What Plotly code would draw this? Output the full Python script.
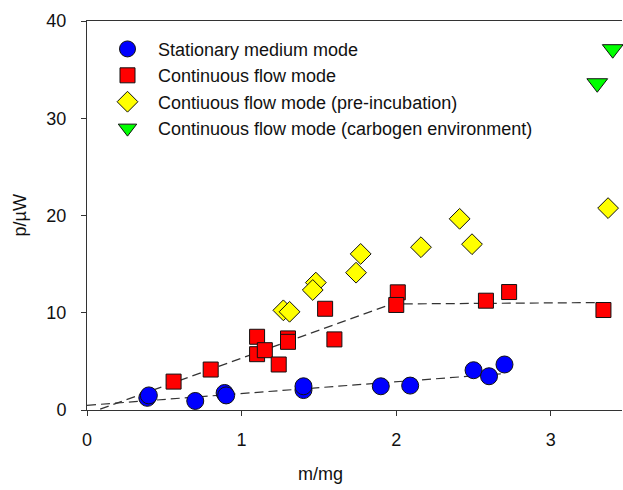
import plotly.graph_objects as go

# Stationary medium mode
stat_x = [0.39, 0.40, 0.70, 0.89, 0.90, 1.40, 1.40, 1.90, 2.09, 2.50, 2.60, 2.70]
stat_y = [1.25, 1.50, 0.93, 1.75, 1.50, 2.05, 2.44, 2.44, 2.51, 4.09, 3.47, 4.68]

# Continuous flow mode
flow_x = [0.56, 0.80, 1.10, 1.10, 1.15, 1.24, 1.30, 1.30, 1.54, 1.60, 2.01, 2.00, 2.58, 2.73, 3.34]
flow_y = [2.92, 4.16, 7.53, 5.74, 6.15, 4.68, 7.36, 7.01, 10.41, 7.26, 12.10, 10.80, 11.24, 12.13, 10.28]

# Continuous flow mode (pre-incubation)
pre_x = [1.27, 1.31, 1.48, 1.46, 1.77, 1.74, 2.16, 2.41, 2.49, 3.37]
pre_y = [10.25, 10.10, 13.10, 12.34, 16.05, 14.12, 16.74, 19.66, 17.05, 20.76]

# Continuous flow mode (carbogen environment)
carb_x = [3.30, 3.40]
carb_y = [33.6, 37.1]

# Fit lines
fit_stat_x = [0.0, 2.70]
fit_stat_y = [0.48, 3.75]
fit_flow_x = [0.0, 1.97, 3.34]
fit_flow_y = [-0.40, 10.90, 11.05]

names = [
    "Stationary medium mode",
    "Continuous flow mode",
    "Contiuous flow mode (pre-incubation)",
    "Continuous flow mode (carbogen environment)",
]

fig = go.Figure()

line_style = dict(color="#333333", width=1.2, dash="9px,5px")
fig.add_trace(go.Scatter(x=fit_stat_x, y=fit_stat_y, mode="lines", line=line_style,
                         showlegend=False, hoverinfo="skip"))
fig.add_trace(go.Scatter(x=fit_flow_x, y=fit_flow_y, mode="lines", line=line_style,
                         showlegend=False, hoverinfo="skip"))

outline = dict(color="#111111", width=1)
fig.add_trace(go.Scatter(x=stat_x, y=stat_y, mode="markers", name=names[0],
                         marker=dict(symbol="circle", size=17, color="#0000ff", line=outline),
                         cliponaxis=False))
fig.add_trace(go.Scatter(x=flow_x, y=flow_y, mode="markers", name=names[1],
                         marker=dict(symbol="square", size=15, color="#ff0000", line=outline),
                         cliponaxis=False))
fig.add_trace(go.Scatter(x=pre_x, y=pre_y, mode="markers", name=names[2],
                         marker=dict(symbol="diamond", size=16, color="#ffff00", line=outline),
                         cliponaxis=False))
fig.add_trace(go.Scatter(x=carb_x, y=carb_y, mode="markers", name=names[3],
                         marker=dict(symbol="triangle-down", size=18, color="#00ff00", line=outline),
                         cliponaxis=False))

font_family = "Liberation Sans, Arial, sans-serif"

fig.update_layout(
    width=623, height=490,
    margin=dict(l=87, r=1, t=21, b=80),
    paper_bgcolor="white", plot_bgcolor="white",
    font=dict(family=font_family, size=18, color="#111111"),
    showlegend=True,
    legend=dict(x=10 / 535, y=0.975, xanchor="left", yanchor="top", itemwidth=51,
                bgcolor="rgba(0,0,0,0)", borderwidth=0,
                font=dict(family=font_family, size=18, color="#111111")),
    xaxis=dict(range=[0, 3.46], tickvals=[0, 1, 2, 3], showgrid=False, zeroline=False,
               showline=True, linecolor="#333333", linewidth=1, mirror=True,
               ticks="outside", ticklen=5, tickcolor="#333333",
               ticklabelstandoff=8, tickfont=dict(size=18)),
    yaxis=dict(range=[0, 40], tickvals=[0, 10, 20, 30, 40], showgrid=False, zeroline=False,
               showline=True, linecolor="#333333", linewidth=1,
               ticks="outside", ticklen=5, tickcolor="#333333",
               ticklabelstandoff=11, tickfont=dict(size=18)),
    annotations=[
        dict(text="m/mg", xref="paper", yref="paper", x=233 / 535, y=-64 / 389,
             xanchor="center", yanchor="middle", showarrow=False, font=dict(size=18)),
        dict(text="p/µW", xref="paper", yref="paper", x=-68 / 535, y=0.5, textangle=-90,
             xanchor="center", yanchor="middle", showarrow=False, font=dict(size=18)),
    ],
)

fig.write_html("out.html",
               config={"displayModeBar": False},
               post_script="document.body.style.margin='0';document.body.style.overflow='hidden';")
